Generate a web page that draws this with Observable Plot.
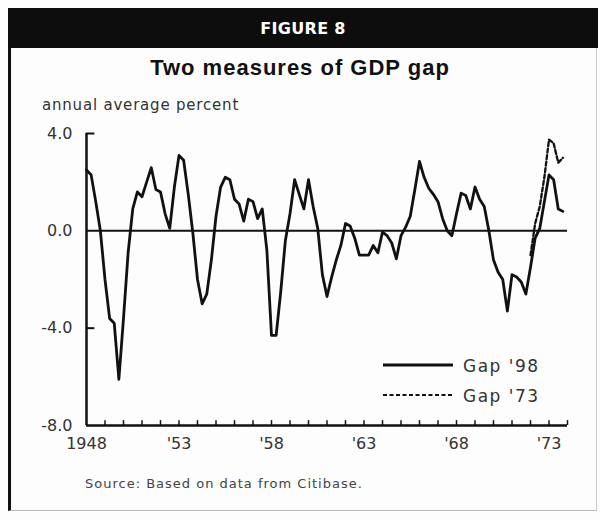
<!DOCTYPE html>
<html>
<head>
<meta charset="utf-8">
<script src="https://cdn.jsdelivr.net/npm/d3@7"></script>
<script src="https://cdn.jsdelivr.net/npm/@observablehq/plot@0.6"></script>
<style>
  body { margin: 0; background: #fff; }
  #wrap { position: relative; width: 600px; height: 520px; background: #fdfdfd; font-family: "DejaVu Sans", sans-serif; overflow: hidden; }
  #frame { position: absolute; left: 8px; top: 8px; width: 589px; height: 503px; border-left: 3px solid #111; border-bottom: 1px solid #bbb; border-right: 1px solid #ccc; box-sizing: border-box; }
  #header { position: absolute; left: 8px; top: 8px; width: 590px; height: 40px; background: #0d0d0d; color: #fff; text-align: center; line-height: 41px; font-weight: bold; font-size: 16px; letter-spacing: 0.3px; }
  #title { position: absolute; left: 0; width: 600px; top: 55px; text-align: center; font-weight: bold; font-size: 22px; letter-spacing: 1px; color: #111; font-family: "Liberation Sans", sans-serif; }
  #subtitle { position: absolute; left: 42px; top: 96px; font-size: 15px; letter-spacing: 0.8px; color: #333; }
  #chart { position: absolute; left: 0; top: 110px; }
  #legend { position: absolute; left: 0; top: 0; }
  #source { position: absolute; left: 85px; top: 476px; font-size: 13px; letter-spacing: 1px; color: #444; }
</style>
</head>
<body>
<div id="wrap">
  <div id="frame"></div>
  <div id="header">FIGURE 8</div>
  <div id="title">Two measures of GDP gap</div>
  <div id="subtitle">annual average percent</div>
  <div id="chart"></div>
  <svg id="legend" width="600" height="520">
    <line x1="383" x2="453" y1="365" y2="365" stroke="#111" stroke-width="3"></line>
    <text x="463" y="372" font-size="17" letter-spacing="1.5" fill="#333" font-family="DejaVu Sans">Gap '98</text>
    <line x1="383" x2="453" y1="395" y2="395" stroke="#111" stroke-width="2.2" stroke-dasharray="4,2.5"></line>
    <text x="463" y="402" font-size="17" letter-spacing="1.5" fill="#333" font-family="DejaVu Sans">Gap '73</text>
  </svg>
  <div id="source">Source: Based on data from Citibase.</div>
</div>
<script>
// Quarterly GDP gap, Gap '98, starting 1948 Q1
const start98 = 1948.0;
const gap98 = [
  2.5, 2.3, 1.2, 0.0,      // 1948
  -2.0, -3.6, -3.8, -6.1,  // 1949
  -3.6, -0.9, 0.9, 1.6,    // 1950
  1.4, 2.0, 2.6, 1.7,      // 1951
  1.6, 0.7, 0.1, 1.8,      // 1952
  3.1, 2.9, 1.5, -0.1,     // 1953
  -2.0, -3.0, -2.6, -1.2,  // 1954
  0.6, 1.8, 2.2, 2.1,      // 1955
  1.3, 1.1, 0.4, 1.3,      // 1956
  1.2, 0.5, 0.9, -0.8,     // 1957
  -4.3, -4.3, -2.5, -0.4,  // 1958
  0.7, 2.1, 1.5, 0.9,      // 1959
  2.1, 1.0, 0.1, -1.8,     // 1960
  -2.7, -1.9, -1.2, -0.6,  // 1961
  0.3, 0.2, -0.3, -1.0,    // 1962
  -1.0, -1.0, -0.6, -0.9,  // 1963
  -0.05, -0.2, -0.5, -1.15,// 1964
  -0.2, 0.15, 0.6, 1.7,    // 1965
  2.85, 2.2, 1.75, 1.5,    // 1966
  1.2, 0.5, 0.0, -0.2,     // 1967
  0.7, 1.55, 1.45, 0.9,    // 1968
  1.8, 1.3, 1.0, 0.0,      // 1969
  -1.2, -1.7, -2.0, -3.3,  // 1970
  -1.8, -1.9, -2.1, -2.6,  // 1971
  -1.5, -0.3, 0.1, 1.2,    // 1972
  2.3, 2.1, 0.9, 0.8       // 1973
];
// Gap '73, starting 1972 Q1
const start73 = 1972.0;
const gap73 = [-1.0, 0.3, 1.0, 2.2, 3.75, 3.6, 2.8, 3.0];

const xDomain = [1948, 1974];
const yDomain = [-8, 4];
const yTicks = [4, 0, -4, -8];
const yInnerTicks = [4, -4];
const xLabelYears = [1948, 1953, 1958, 1963, 1968, 1973];
const xTickYears = d3.range(1949, 1975);

const rows98 = gap98.map((v, i) => ({date: start98 + i * 0.25, value: v}));
const rows73 = gap73.map((v, i) => ({date: start73 + i * 0.25, value: v}));

const chart = Plot.plot({
  width: 600,
  height: 360,
  marginLeft: 86,
  marginRight: 33,
  marginTop: 23,
  marginBottom: 45,
  style: {background: "transparent", fontFamily: "DejaVu Sans, sans-serif", color: "#333"},
  x: {domain: xDomain, label: null},
  y: {domain: yDomain, label: null},
  marks: [
    Plot.axisY({ticks: yTicks, tickSize: 0, tickPadding: 14, fontSize: 16, label: null, tickFormat: d => d.toFixed(1), fill: "#333"}),
    Plot.axisX({ticks: xLabelYears, tickSize: 0, tickPadding: 12, fontSize: 16, label: null, fill: "#333",
      tickFormat: d => d === 1948 ? "1948" : "'" + String(d).slice(2)}),
    Plot.ruleX([xDomain[0]], {y1: yDomain[0], y2: yDomain[1], stroke: "#111", strokeWidth: 2.5}),
    Plot.ruleY(yInnerTicks, {x1: xDomain[0], x2: xDomain[0] + 0.45, stroke: "#111", strokeWidth: 2}),
    Plot.ruleX(xTickYears, {y1: yDomain[0], y2: yDomain[0] + 0.2, stroke: "#111", strokeWidth: 1.5}),
    Plot.ruleY([yDomain[0]], {stroke: "#111", strokeWidth: 2.5}),
    Plot.ruleY([0], {stroke: "#111", strokeWidth: 2}),
    Plot.line(rows73, {x: "date", y: "value", stroke: "#111", strokeWidth: 2.3, strokeDasharray: "4,2.5"}),
    Plot.line(rows98, {x: "date", y: "value", stroke: "#111", strokeWidth: 2.8, strokeLinejoin: "round"})
  ]
});
document.getElementById("chart").appendChild(chart);
</script>
</body>
</html>
